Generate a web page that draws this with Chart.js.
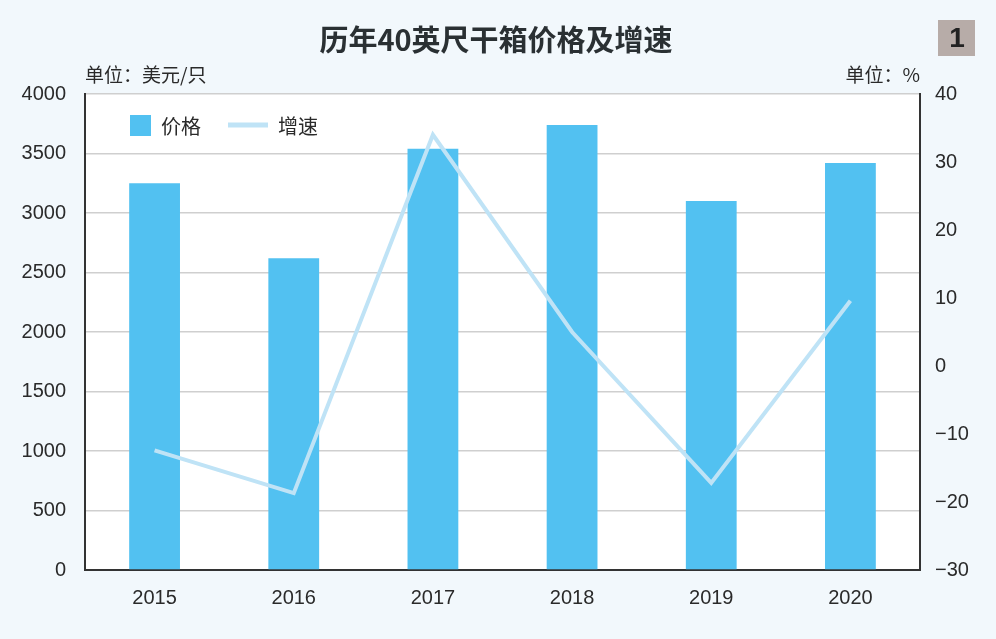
<!DOCTYPE html>
<html>
<head>
<meta charset="utf-8">
<script src="https://cdn.jsdelivr.net/npm/chart.js@4.4.1/dist/chart.umd.min.js"></script>
<style>
  html, body { margin: 0; padding: 0; background: #f2f8fc; }
  #chart { display: block; }
</style>
</head>
<body>
<canvas id="chart" width="996" height="639"></canvas>
<script>
// data
const years = ["2015", "2016", "2017", "2018", "2019", "2020"];
const prices = [3250, 2620, 3540, 3740, 3100, 3420];      // 美元/只
const growth = [-12.4, -18.7, 34.0, 5.0, -17.2, 9.6];     // %
const priceTicks = [0, 500, 1000, 1500, 2000, 2500, 3000, 3500, 4000];
const growthTicks = [-30, -20, -10, 0, 10, 20, 30, 40];

const FONT = '"Liberation Sans", "Noto Sans CJK SC", sans-serif';
const CJK = '"Noto Sans CJK SC", "Liberation Sans", sans-serif';

// page background, white plot area, title, units, badge, legend
const decor = {
    id: "decor",
    beforeDraw(chart) {
        const { ctx, chartArea: a, width, height } = chart;
        ctx.save();
        ctx.fillStyle = "#f2f8fc";
        ctx.fillRect(0, 0, width, height);
        ctx.fillStyle = "#ffffff";
        ctx.fillRect(a.left, a.top, a.right - a.left, a.bottom - a.top);
        ctx.restore();
    },
    afterDraw(chart) {
        const { ctx, chartArea: a } = chart;
        ctx.save();
        // title
        ctx.fillStyle = "#2a3033";
        ctx.font = "bold 29px " + CJK;
        ctx.textAlign = "center";
        ctx.textBaseline = "middle";
        ctx.fillText("历年40英尺干箱价格及增速", 496, 40);

        // badge
        ctx.fillStyle = "#b7aca8";
        ctx.fillRect(938, 20, 37, 36);
        ctx.fillStyle = "#222";
        ctx.font = "bold 28px " + FONT;
        ctx.fillText("1", 957, 39);

        // units
        ctx.font = "19px " + CJK;
        ctx.fillStyle = "#2a2a2a";
        ctx.textAlign = "left";
        ctx.fillText("单位：美元/只", a.left, 75);
        ctx.textAlign = "right";
        ctx.fillText("单位：%", a.right, 75);

        // legend inside the plot
        const bar = chart.data.datasets[1];
        const line = chart.data.datasets[0];
        ctx.fillStyle = bar.backgroundColor;
        ctx.fillRect(130, 115, 21, 21);
        ctx.fillStyle = "#2a2a2a";
        ctx.textAlign = "left";
        ctx.font = "20px " + CJK;
        ctx.fillText(bar.label, 161, 126);
        ctx.strokeStyle = line.borderColor;
        ctx.lineWidth = 5;
        ctx.beginPath();
        ctx.moveTo(228, 125);
        ctx.lineTo(268, 125);
        ctx.stroke();
        ctx.fillText(line.label, 278, 126);
        ctx.restore();
    }
};

new Chart(document.getElementById("chart"), {
    data: {
        labels: years,
        datasets: [
            {
                type: "line",
                label: "增速",
                data: growth,
                yAxisID: "y1",
                borderColor: "#bfe3f6",
                borderWidth: 4,
                pointRadius: 0,
                tension: 0,
                order: 0
            },
            {
                type: "bar",
                label: "价格",
                data: prices,
                yAxisID: "y",
                backgroundColor: "#52c1f1",
                barPercentage: 0.365,
                categoryPercentage: 1,
                order: 1
            }
        ]
    },
    options: {
        responsive: false,
        animation: false,
        layout: { padding: { top: 94, left: 0, right: 0, bottom: 0 } },
        plugins: {
            legend: { display: false },
            title: { display: false },
            tooltip: { enabled: false }
        },
        scales: {
            x: {
                grid: { display: false, drawTicks: false },
                border: { display: true, color: "#333", width: 2 },
                ticks: { color: "#2a2a2a", font: { family: FONT, size: 20 }, padding: 16 },
                afterFit(s) { s.height = 69; }
            },
            y: {
                position: "left",
                min: 0,
                max: 4000,
                afterBuildTicks(s) { s.ticks = priceTicks.map(v => ({ value: v })); },
                grid: { color: "#cfcfcf", lineWidth: 1.5, drawTicks: false },
                border: { display: true, color: "#333", width: 2 },
                ticks: {
                    color: "#2a2a2a",
                    font: { family: FONT, size: 20 },
                    padding: 19,
                    callback: v => String(v)
                },
                afterFit(s) { s.width = 85; }
            },
            y1: {
                position: "right",
                min: -30,
                max: 40,
                afterBuildTicks(s) { s.ticks = growthTicks.map(v => ({ value: v })); },
                grid: { display: false, drawTicks: false },
                border: { display: true, color: "#333", width: 2 },
                ticks: {
                    color: "#2a2a2a",
                    font: { family: FONT, size: 20 },
                    padding: 15,
                    callback: v => (v < 0 ? "\u2212" + Math.abs(v) : String(v))
                },
                afterFit(s) { s.width = 76; }
            }
        }
    },
    plugins: [decor]
});
</script>
</body>
</html>
